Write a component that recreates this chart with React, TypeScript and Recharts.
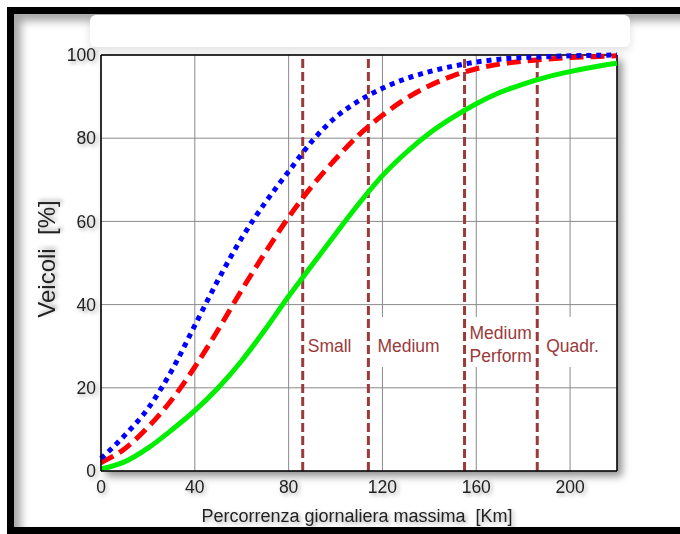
import React from 'react';
import {
  LineChart,
  Line,
  XAxis,
  YAxis,
  CartesianGrid,
  ReferenceLine,
} from 'recharts';

// Percorrenza giornaliera massima [Km]
const km = [0, 10, 20, 30, 40, 50, 60, 70, 80, 90, 100, 110, 120, 130, 140, 150, 160, 170, 180, 190, 200, 210, 220];
// Veicoli [%] – three cumulative curves
const blueDotted = [3, 8.5, 15, 24, 35, 46, 56, 64.5, 72, 79.3, 85, 89, 92, 94.3, 96, 97.3, 98.3, 99, 99.4, 99.6, 99.8, 99.9, 100];
const redDashed = [2, 5.3, 10.5, 17, 25, 34, 43.5, 52.5, 61, 68.5, 75, 80.8, 85.5, 89.5, 92.6, 95, 96.7, 97.8, 98.5, 99, 99.4, 99.6, 99.8];
const greenSolid = [0.5, 2.2, 5.5, 9.8, 14.5, 20, 26.5, 34, 42, 49.5, 57, 64.3, 71, 76.5, 81.2, 85, 88.3, 91, 93, 94.7, 96, 97.1, 98];

const xTicks = [0, 40, 80, 120, 160, 200];
const yTicks = [0, 20, 40, 60, 80, 100];

// vehicle classes: limit in km and label lines
const classLimits = [86, 114, 155, 186];
const classLabels = [['Small'], ['Medium'], ['Medium', 'Perform'], ['Quadr.']];

const data = km.map((k, i) => ({
  km: k,
  blue: blueDotted[i],
  red: redDashed[i],
  green: greenSolid[i],
}));

const FONT = '"Liberation Sans", Arial, Helvetica, sans-serif';
const BROWN = '#9b3a3a';
const textGlow = 'drop-shadow(2px 2px 2px rgba(0,0,0,0.35))';

const renderClassLabel = (props: any, lines: string[]) => {
  const vb = props.viewBox || {};
  const x = vb.x;
  const top = Math.min(vb.y, vb.y + (vb.height || 0));
  const maxLen = Math.max(...lines.map((l) => l.length));
  const boxW = maxLen * 9.6 + 6;
  const single = lines.length === 1;
  return (
    <g>
      <rect x={x + 3} y={top + 262} width={boxW} height={50} fill="#fff" />
      {lines.map((l, i) => (
        <text
          key={l}
          x={x + (single ? (l === 'Small' ? 5 : 9) : 5)}
          y={top + (single ? 297 : 284 + i * 23)}
          fill={BROWN}
          fontSize={17.5}
          fontFamily={FONT}
        >
          {l}
        </text>
      ))}
    </g>
  );
};

export default function App() {
  return (
    <div style={{ position: 'absolute', left: 0, top: 0, width: 680, height: 534, background: '#fff', overflow: 'hidden' }}>
      {/* black frame, open on the right */}
      <div
        style={{
          position: 'absolute',
          left: 7,
          top: 7,
          width: 760,
          height: 527,
          boxSizing: 'border-box',
          border: '7px solid #000',
          boxShadow: 'inset 7px 7px 9px rgba(0,0,0,0.35)',
        }}
      />
      {/* empty title box */}
      <div
        style={{
          position: 'absolute',
          left: 90,
          top: 15,
          width: 540,
          height: 32,
          background: '#fff',
          borderRadius: 6,
          boxShadow: '0 4px 10px rgba(0,0,0,0.12)',
        }}
      />
      {/* plot shadow */}
      <div
        style={{
          position: 'absolute',
          left: 101,
          top: 55,
          width: 516,
          height: 416,
          background: '#fff',
          boxShadow: '5px 5px 8px rgba(0,0,0,0.45)',
        }}
      />
      <div style={{ position: 'absolute', left: 0, top: 0 }}>
        <LineChart width={680} height={534} data={data} margin={{ top: 55, right: 63, bottom: 0, left: 0 }}>
          <CartesianGrid stroke="#8a8a8a" strokeWidth={1} />
          <XAxis
            dataKey="km"
            type="number"
            domain={[0, 220]}
            ticks={xTicks}
            height={63}
            tickSize={8}
            tickMargin={2}
            tickLine={false}
            axisLine={{ stroke: '#000', strokeWidth: 1.5 }}
            tick={{ fill: '#222', fontSize: 17.5, fontFamily: FONT, style: { filter: textGlow } }}
            label={(p: any) => (
              <text
                x={357}
                y={522}
                textAnchor="middle"
                fill="#222"
                fontSize={18}
                fontFamily={FONT}
                style={{ whiteSpace: 'pre', filter: textGlow }}
              >
                {'Percorrenza giornaliera massima  [Km]'}
              </text>
            )}
          />
          <YAxis
            type="number"
            domain={[0, 100]}
            ticks={yTicks}
            width={101}
            tickSize={3}
            tickMargin={2}
            tickLine={false}
            axisLine={{ stroke: '#000', strokeWidth: 1.5 }}
            tick={{ fill: '#222', fontSize: 17.5, fontFamily: FONT, style: { filter: textGlow } }}
            label={(p: any) => (
              <text
                x={0}
                y={0}
                transform="translate(55 259) rotate(-90)"
                textAnchor="middle"
                fill="#222"
                fontSize={24}
                fontFamily={FONT}
                style={{ whiteSpace: 'pre', filter: textGlow }}
              >
                {'Veicoli  [%]'}
              </text>
            )}
          />
          <ReferenceLine y={100} stroke="#000" strokeWidth={1.5} />
          <ReferenceLine x={220} stroke="#000" strokeWidth={1.5} />
          {classLimits.map((lim, i) => (
            <ReferenceLine
              key={lim}
              x={lim}
              stroke={BROWN}
              strokeWidth={3}
              strokeDasharray="9 4"
              label={(p: any) => renderClassLabel(p, classLabels[i])}
            />
          ))}
          <Line
            type="monotone"
            dataKey="green"
            stroke="#00ee00"
            strokeWidth={5}
            dot={false}
            isAnimationActive={false}
          />
          <Line
            type="monotone"
            dataKey="red"
            stroke="#ff0000"
            strokeWidth={5}
            strokeDasharray="14 7"
            dot={false}
            isAnimationActive={false}
          />
          <Line
            type="monotone"
            dataKey="blue"
            stroke="#0000ff"
            strokeWidth={5}
            strokeDasharray="5 5"
            dot={false}
            isAnimationActive={false}
          />
        </LineChart>
      </div>
    </div>
  );
}
